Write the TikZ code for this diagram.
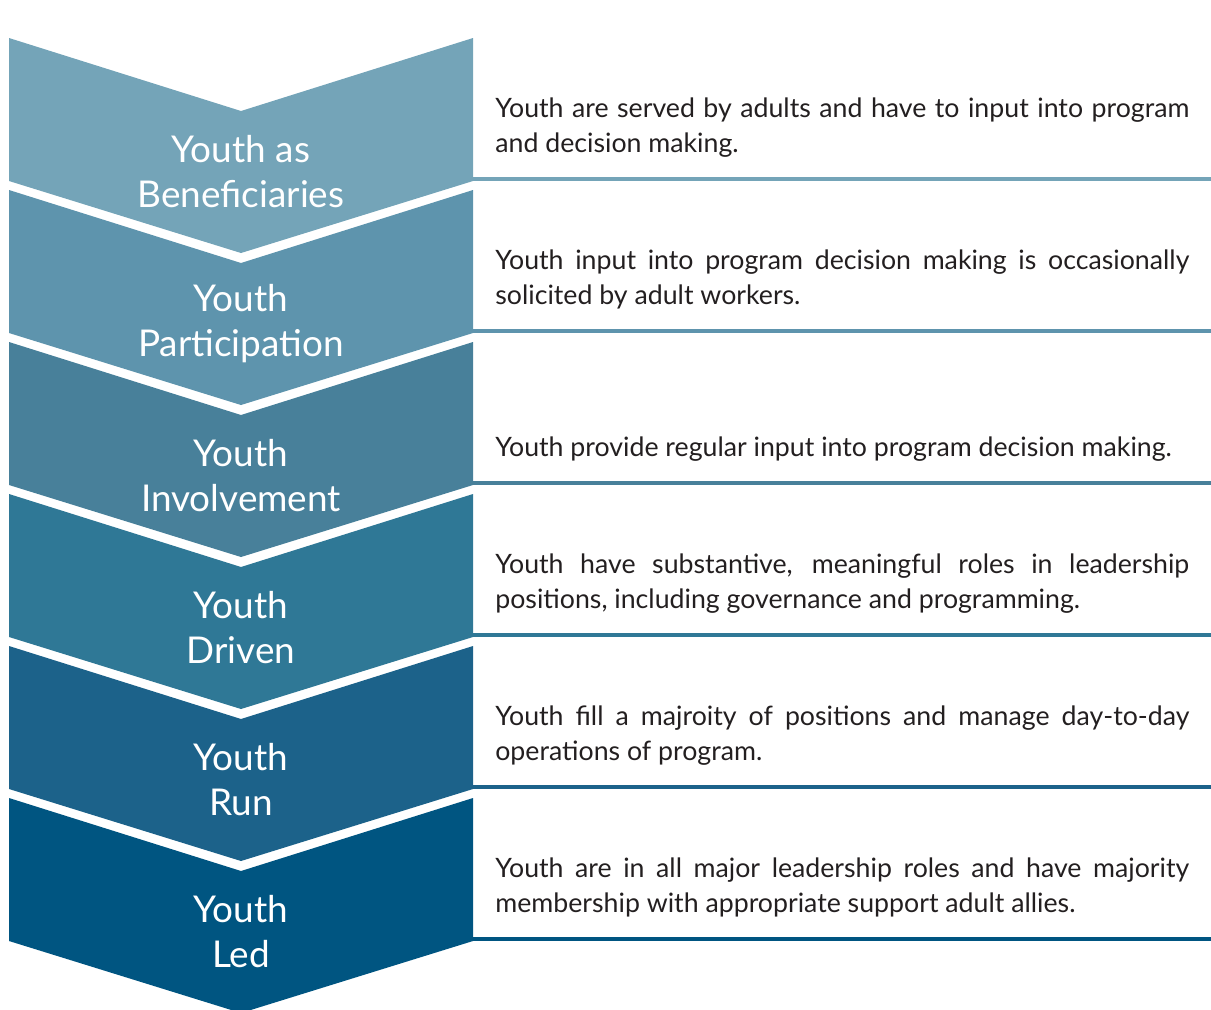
\documentclass[tikz,border=0pt]{standalone}
\usepackage{fontspec}
\setmainfont{Lato}
\usepackage{tikz}
\definecolor{lvlA}{HTML}{74A4B8}
\definecolor{lvlB}{HTML}{5E94AD}
\definecolor{lvlC}{HTML}{48809A}
\definecolor{lvlD}{HTML}{2F7896}
\definecolor{lvlE}{HTML}{1C628A}
\definecolor{lvlF}{HTML}{005581}
\definecolor{bodytext}{HTML}{231F20}

\begin{document}
\begin{tikzpicture}[x=0.02cm,y=-0.02cm,
    stage/.style={text=white,align=center,inner sep=0pt,
      font=\fontsize{21}{25.6}\selectfont},
    descr/.style={text=bodytext,text width=395pt,align=justify,inner sep=0pt,
      anchor=south west,font=\fontsize{15.2}{19.9}\selectfont},
    rule/.style={line width=2.3pt}]
   \useasboundingbox (0,0) rectangle (1211,1009);

   % one chevron per level, with its rule and description to the right
   \foreach \i/\col/\stg/\txt in {
      0/lvlA/{Youth as\\Beneficiaries}/{Youth are served by adults and have to input into program\linebreak and decision making.},
      1/lvlB/{Youth\\Participation}/{Youth input into program decision making is occasionally\linebreak solicited by adult workers.},
      2/lvlC/{Youth\\Involvement}/{Youth provide regular input into program decision making.},
      3/lvlD/{Youth\\Driven}/{Youth have substantive, meaningful roles in leadership\linebreak positions, including governance and programming.},
      4/lvlE/{Youth\\Run}/{Youth fill a majroity of positions and manage day-to-day\linebreak operations of program.},
      5/lvlF/{Youth\\Led}/{Youth are in all major leadership roles and have majority\linebreak membership with appropriate support adult allies.}}
   {
     \pgfmathsetmacro\top{38+152*\i}
     \fill[\col] (9,\top) -- (241,{\top+73}) -- (473,\top) -- (473,{\top+143})
        -- (241,{\top+215}) -- (9,{\top+143}) -- cycle;
     \node[stage] (stage\i) at (241,{\top+134}) {\stg};
     \draw[rule,\col] (473,{\top+141}) coordinate (ruleL\i) -- (1211,{\top+141}) coordinate (ruleR\i);
     \node[descr] (descr\i) at (495,{\top+141-16}) {\hyphenpenalty=10000 \txt\strut};
   }
 \end{tikzpicture}
\end{document}
